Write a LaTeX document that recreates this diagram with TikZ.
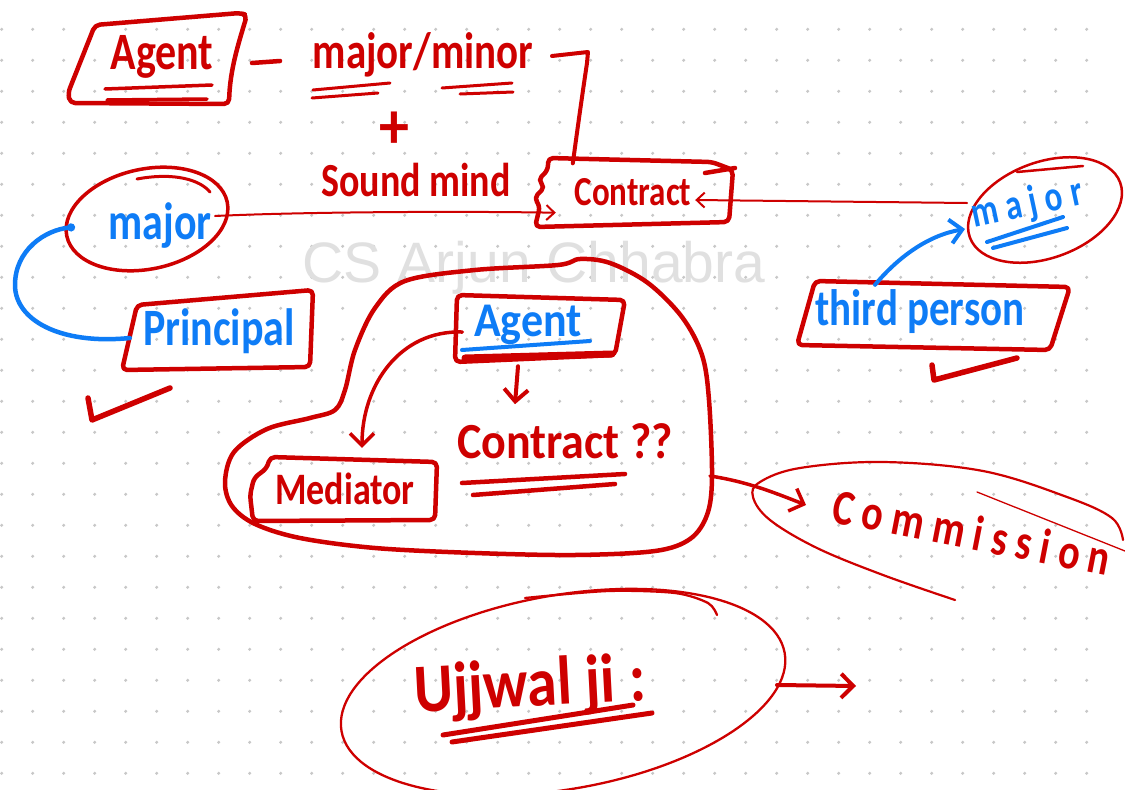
\documentclass[tikz,border=0pt]{standalone}
\usepackage{fontspec}
\usepackage{graphicx}
\setmainfont{Carlito}
\newfontfamily\wmfont{Liberation Sans}
\usetikzlibrary{arrows.meta,calc,shapes.geometric}
\definecolor{ink}{RGB}{206,0,0}
\definecolor{pen}{RGB}{14,124,246}
\definecolor{griddot}{RGB}{200,200,200}
\definecolor{wmgray}{RGB}{224,224,224}
% tall, marker-like lettering
\newcommand{\hw}[2][1.25]{\scalebox{1}[#1]{#2}}

\begin{document}
\begin{tikzpicture}[x=1pt,y=-1pt,
  line cap=round, line join=round,
  hs/.style={font=\fontsize{#1}{#1}\selectfont\bfseries, inner sep=0pt},
  redtxt/.style={text=ink},
  bluetxt/.style={text=pen},
  box/.style={draw=ink, line width=4.5pt, rounded corners=5pt},
  stroke/.style={draw=ink, line width=#1},
  barb/.style={-{Straight Barb[length=12pt,width=24pt]}},
  smallbarb/.style={-{Straight Barb[length=8pt,width=15pt]}}
]
\fill[white] (0,0) rectangle (1125,790);
\useasboundingbox (0,0) rectangle (1125,790);

% dotted paper
\foreach \i in {0,...,35}
  \foreach \j in {0,...,24}
    \fill[griddot] (1.7+31*\i, 29.3+31*\j) circle (1.7);

% watermark
\node[font=\wmfont\fontsize{57}{57}\selectfont, text=wmgray, inner sep=0pt] (wmark) at (534,268) {CS Arjun Chhabra};

% ---------- top line: Agent - major/minor + sound mind ----------
\node[hs=42, redtxt] (agentTop) at (162,57) {\hw{Agent}};
\draw[box] (95,25) -- (240,13) -- (247,15) .. controls (238,45) and (230,70) .. (229,104) -- (70,103) -- (68,93) -- cycle;
\draw[stroke=3.5pt] (105,89) -- (212,85);
\draw[stroke=3.5pt] (107,100) -- (207,99);
\draw[stroke=4.5pt] (252,63) -- (280,61);

\node[hs=41, redtxt] (majmin) at (423,55) {\hw{major/minor}};
\draw[stroke=3pt] (313,90) -- (390,83);
\draw[stroke=3pt] (312,98) -- (378,93);
\draw[stroke=3pt] (442,88) -- (512,83);
\draw[stroke=3pt] (460,94) -- (513,92);

\node[hs=60, redtxt] (plus) at (394,130) {\hw[1.1]{+}};
\node[hs=38, redtxt] (sound) at (416,180) {\hw{Sound mind}};

% ---------- Contract ----------
\node[hs=33, redtxt, minimum width=196pt, minimum height=69pt] (contract) at (633,192) {\hw{Contract}};
\draw[box] (548,158) -- (712,162) -- (733,170) -- (729,222) -- (535,227) -- (540,206)
  -- (534,198) -- (545,187) -- (538,180) -- (548,170) -- cycle;
\draw[stroke=4.5pt] (705,173) -- (735,168);

% bracket from the top line down to Contract
\coordinate (brA) at (552,56);
\draw[stroke=4pt] (brA) -- (588,52) -- (587,63) .. controls (580,110) and (576,140) .. ($(contract.north west)+(38,6)$);

% ---------- left: major / Principal ----------
\coordinate (majL) at (147,219);
\draw[ink, line width=3.5pt, rotate around={12:(majL)}] (majL) ellipse [x radius=82, y radius=50];
\coordinate (majLe) at (215,216);
\coordinate (majLw) at (75,227);
\draw[stroke=3pt] (137,179) .. controls (175,172) and (200,180) .. (210,192);
\node[hs=42, bluetxt] (majLt) at (160,226) {\hw{major}};
\draw[stroke=2pt, smallbarb] (majLe) .. controls (300,212) and (450,211) .. ($(contract.south west)+(21,-14)$);

\node[hs=42, bluetxt, minimum width=190pt, minimum height=75pt] (principal) at (219,331) {\hw{Principal}};
\draw[box] (137,305) -- (313,290) -- (310,367) -- (122,370) -- cycle;
\draw[pen, line width=4.5pt, -{Circle[length=8pt]}] ($(principal.west)+(6,7)$)
  .. controls (60,345) and (15,320) .. (15,285)
  .. controls (15,250) and (45,230) .. (majLw);
\draw[stroke=5.5pt] (88,398) -- (92,420) -- (170,388);

% ---------- right: major / third person ----------
\coordinate (majR) at (1045,210);
\draw[ink, line width=2.5pt, rotate around={20:(majR)}] (majR) ellipse [x radius=80, y radius=48];
\coordinate (majRin) at (967,203);
\coordinate (majRw) at (965,229);
\draw[stroke=2.5pt] (1017,172) -- (1083,166);
\node[hs=33, bluetxt, rotate=12] (majRt) at (1027,205) {\hw[1.3]{\addfontfeature{LetterSpace=24}major}};
\draw[pen, line width=4pt] (987,242) -- (1063,217);
\draw[pen, line width=4pt] (993,248) -- (1067,228);
\draw[stroke=2pt, smallbarb] (majRin) -- ($(contract.east)+(-36,8)$);

\node[hs=41, bluetxt, minimum width=255pt, minimum height=62pt] (third) at (920,312) {\hw{third person}};
\draw[box] (815,281) -- (1070,287) -- (1050,350) -- (797,345) -- cycle;
\draw[pen, line width=4pt, barb] ($(third.north)+(-45,4)$) .. controls (900,255) and (930,235) .. (majRw);
\draw[stroke=5.5pt] (932,365) -- (934,380) -- (1017,358);

% ---------- middle group ----------
\draw[ink, line width=4.5pt] plot[smooth cycle, tension=0.55] coordinates {
  (558,265) (580,259) (610,263) (648,283) (682,317) (702,355) (709,400) (712,478)
  (707,515) (690,539) (655,551) (575,555) (475,553) (375,548) (300,538) (255,524)
  (232,506) (225,482) (234,452) (267,429) (310,418) (335,410) (345,390) (355,350)
  (375,308) (405,281) (475,270)};

\node[hs=44, bluetxt, minimum width=165pt, minimum height=62pt] (agentIn) at (528,325) {\hw[1.1]{Agent}};
\draw[box] (457,295) -- (625,300) -- (615,355) -- (455,362) -- cycle;
\draw[stroke=7pt] (465,358) -- (612,354);
\draw[pen, line width=4pt] (462,350) -- (590,341);

\node[hs=36, redtxt, minimum width=185pt, minimum height=62pt] (med) at (345,489) {\hw{Mediator}};
\draw[box] (270,457) -- (437,462) -- (435,520) -- (253,521) -- (250,495) -- (254,478) -- (267,468) -- cycle;
\draw[stroke=3.5pt, barb] ($(agentIn.west)+(17,7)$) .. controls (400,330) and (362,385) .. ($(med.north)+(17,-10)$);

\node[hs=46, redtxt] (contractQ) at (565,441) {\hw[1.1]{Contract ??}};
\draw[stroke=4pt, barb] ($(agentIn.south)+(-10,10)$) -- ($(agentIn.south)+(-13,48)$);
\draw[stroke=4.5pt] (462,483) -- (625,474);
\draw[stroke=4.5pt] (473,495) -- (615,484);

% ---------- Commission ----------
\node[hs=40, redtxt, rotate=-11] (commission) at (972,532) {\hw{\addfontfeature{LetterSpace=22}Commission}};
\draw[ink, line width=2.2pt] plot[smooth, tension=0.6] coordinates {
  (955,600) (883,575) (817,548) (770,520) (753,497) (760,482) (800,468) (883,462)
  (983,471) (1067,497) (1112,518) (1123,540)};
\draw[stroke=1.3pt] (977,492) -- (1125,551);
\coordinate (blobR) at (710,476);
\coordinate (commTip) at (806,505);
\draw[stroke=3.5pt, barb] (blobR) .. controls (750,482) and (780,495) .. (commTip);

% ---------- Ujjwal ji ----------
\coordinate (uring) at (563,692);
\draw[ink, line width=2.3pt, rotate around={10:(uring)}] (uring) ellipse [x radius=225, y radius=97];
\draw[ink, line width=2.3pt] plot[smooth] coordinates {(525,598) (608,591) (675,593) (708,603) (717,615)};
\node[hs=60, redtxt, rotate=3] (ujjwal) at (530,688) {\hw[1.15]{Ujjwal ji :}};
\draw[stroke=5pt] (443,735) -- (633,705);
\draw[stroke=5pt] (452,742) -- (652,713);
\coordinate (uOut) at (777,685);
\coordinate (uTip) at (856,686);
\draw[stroke=4pt, barb] (uOut) -- (uTip);
\end{tikzpicture}
\end{document}
